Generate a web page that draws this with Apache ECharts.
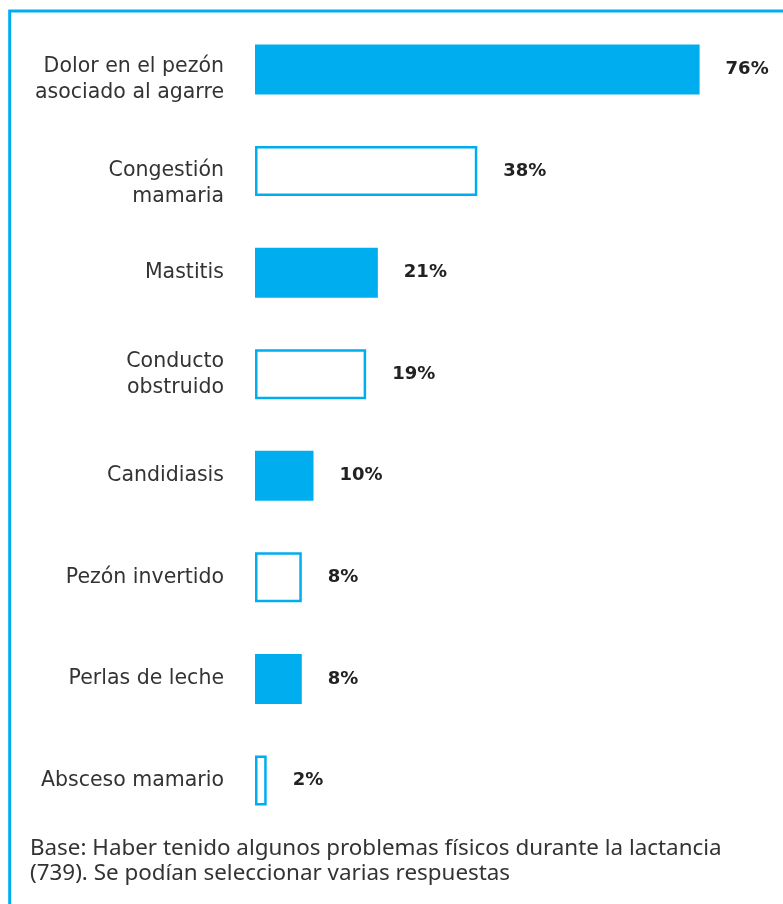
<!DOCTYPE html>
<html>
<head>
<meta charset="utf-8">
<script src="https://cdn.jsdelivr.net/npm/echarts@6/dist/echarts.min.js"></script>
<style>
html,body{margin:0;padding:0;background:#fff;}
#c{width:783px;height:904px;}
</style>
</head>
<body>
<div id="c"></div>
<script>
const categories = [
  "Dolor en el pezón\nasociado al agarre",
  "Congestión\nmamaria",
  "Mastitis",
  "Conducto\nobstruido",
  "Candidiasis",
  "Pezón invertido",
  "Perlas de leche",
  "Absceso mamario"
];
const values = [76, 38, 21, 19, 10, 8, 8, 2];
const filled = [true, false, true, false, true, false, true, false];
const footnote = "Base: Haber tenido algunos problemas físicos durante la lactancia\n(739). Se podían seleccionar varias respuestas";

const BLUE = "#00AEEF";
// vertical nudge (px, downward) of some category labels, as in the reference layout
const labelNudge = {0: 10, 1: 13};

const chart = echarts.init(document.getElementById('c'), null, {renderer: 'canvas'});
chart.setOption({
  backgroundColor: '#fff',
  animation: false,
  grid: {left: 255, top: 18.7, width: 526.5, height: 812.6, containLabel: false},
  xAxis: {type: 'value', min: 0, max: 90, show: false},
  yAxis: {
    type: 'category', inverse: true,
    data: categories,
    axisLine: {show: false}, axisTick: {show: false}, splitLine: {show: false},
    axisLabel: {
      color: '#333', fontSize: 20.5, fontFamily: 'DejaVu Sans', lineHeight: 26, margin: 31, align: 'right',
      formatter: (v, i) => labelNudge[i] ? '{s' + labelNudge[i] + '| }\n' + v : v,
      rich: {
        s10: {lineHeight: 20, height: 20, fontSize: 2},
        s13: {lineHeight: 26, height: 26, fontSize: 2}
      }
    }
  },
  series: [{
    type: 'bar',
    barWidth: 50,
    data: values.map((v, i) => ({
      value: v,
      itemStyle: filled[i]
        ? {color: BLUE, borderWidth: 0}
        : {color: '#fff', borderColor: BLUE, borderWidth: 2.5}
    })),
    label: {
      show: true, position: 'right', distance: 26,
      formatter: p => p.value + '%',
      color: '#222', fontSize: 18, fontWeight: 'bold', fontFamily: 'DejaVu Sans'
    }
  }],
  graphic: [
    {type: 'polyline', shape: {points: [[9.7, 904], [9.7, 11], [783, 11]]},
     style: {stroke: BLUE, lineWidth: 3, fill: null}},
    {type: 'text', left: 30, top: 836,
     style: {text: footnote, fill: '#333', fontSize: 22.4, fontFamily: 'Noto Sans', lineHeight: 25}}
  ]
});
</script>
</body>
</html>
